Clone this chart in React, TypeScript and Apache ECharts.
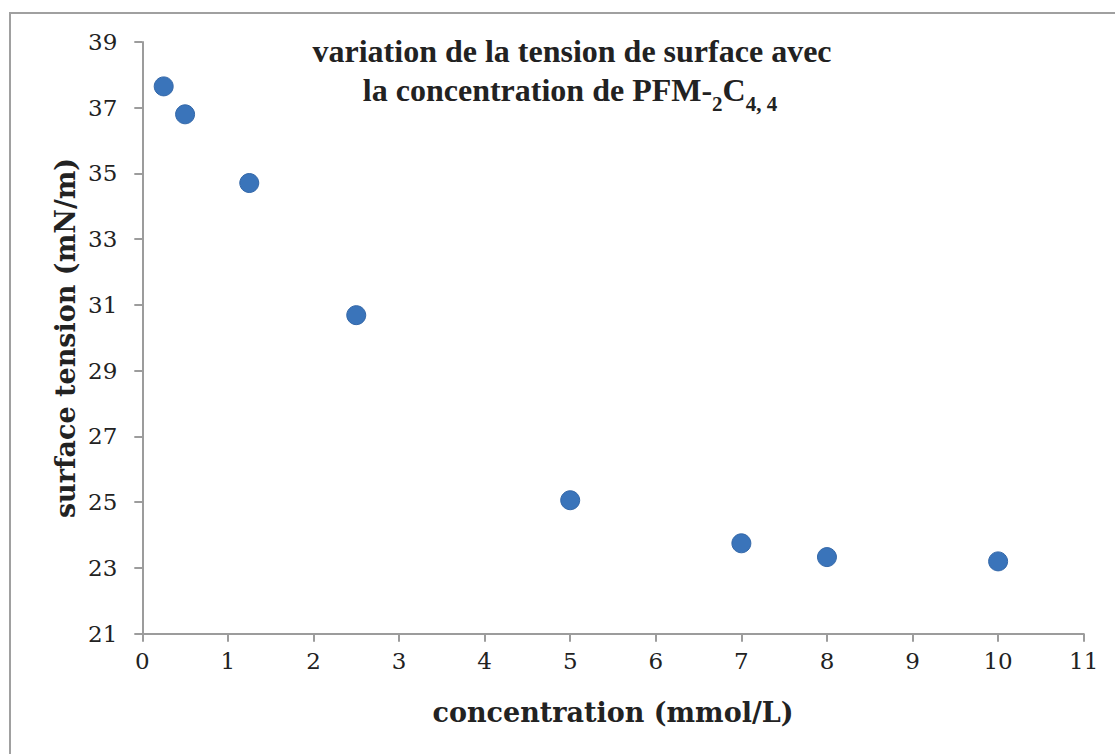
import React, { useEffect, useRef } from "react";
import * as echarts from "echarts";

const concentration = [0.25, 0.5, 1.25, 2.5, 5, 7, 8, 10];
const surfaceTension = [37.65, 36.8, 34.71, 30.69, 25.06, 23.75, 23.33, 23.2];
const titleLine1 = "variation de la tension de surface avec";
const titleLine2 = "{main|la concentration de PFM-}{sub|2}{main|C}{sub|4, 4}";
const xTitle = "concentration (mmol/L)";
const yTitle = "surface tension (mN/m)";

export default function App() {
  const ref = useRef<HTMLDivElement>(null);
  useEffect(() => {
    const chart = echarts.init(ref.current!, null, { renderer: "svg" });
    const axisColor = "#9c9c9c";
    const tickFont = { fontFamily: "DejaVu Serif", fontSize: 23, color: "#222" };
    chart.setOption({
      animation: false,
      backgroundColor: "#fff",
      grid: { left: 142.3, right: 31.3, top: 42, bottom: 120.3 },
      xAxis: {
        type: "value",
        min: 0,
        max: 11,
        interval: 1,
        splitLine: { show: false },
        axisLine: { show: true, lineStyle: { color: axisColor, width: 2 } },
        axisTick: { show: true, inside: false, length: 8, lineStyle: { color: axisColor, width: 2 } },
        axisLabel: { ...tickFont, margin: 16 },
      },
      yAxis: {
        type: "value",
        min: 21,
        max: 39,
        interval: 2,
        splitLine: { show: false },
        axisLine: { show: true, lineStyle: { color: axisColor, width: 2 } },
        axisTick: { show: true, inside: false, length: 8, lineStyle: { color: axisColor, width: 2 } },
        axisLabel: { ...tickFont, margin: 25 },
      },
      series: [
        {
          type: "scatter",
          data: concentration.map((c, i) => [c, surfaceTension[i]]),
          symbol: "circle",
          symbolSize: 19,
          itemStyle: { color: "#3a74ba", borderColor: "#3468a9", borderWidth: 1, opacity: 1 },
        },
      ],
      graphic: [
        {
          type: "rect",
          shape: { x: 10, y: 13, width: 1200, height: 900 },
          style: { fill: "none", stroke: "#a0a0a0", lineWidth: 2 },
          silent: true,
        },
        {
          type: "text",
          x: 572,
          y: 51,
          style: {
            text: titleLine1,
            fontFamily: "Liberation Serif",
            fontWeight: "bold",
            fontSize: 32,
            fill: "#222",
            align: "center",
            verticalAlign: "middle",
          },
        },
        {
          type: "text",
          x: 570,
          y: 74,
          style: {
            text: titleLine2,
            fontFamily: "Liberation Serif",
            fontWeight: "bold",
            fontSize: 32,
            fill: "#222",
            align: "center",
            verticalAlign: "top",
            rich: {
              main: {
                fontFamily: "Liberation Serif",
                fontWeight: "bold",
                fontSize: 32,
                lineHeight: 34,
                verticalAlign: "top",
                fill: "#222",
              },
              sub: {
                fontFamily: "Liberation Serif",
                fontWeight: "bold",
                fontSize: 21,
                lineHeight: 40,
                verticalAlign: "bottom",
                fill: "#222",
              },
            },
          },
        },
        {
          type: "text",
          x: 613,
          y: 712,
          style: {
            text: xTitle,
            fontFamily: "DejaVu Serif",
            fontWeight: "bold",
            fontSize: 27,
            fill: "#222",
            align: "center",
            verticalAlign: "middle",
          },
        },
        {
          type: "text",
          x: 65,
          y: 338,
          rotation: Math.PI / 2,
          style: {
            text: yTitle,
            fontFamily: "DejaVu Serif",
            fontWeight: "bold",
            fontSize: 27,
            fill: "#222",
            align: "center",
            verticalAlign: "middle",
          },
        },
      ],
    });
    return () => chart.dispose();
  }, []);
  return <div ref={ref} style={{ width: 1115, height: 754, position: "absolute", left: 0, top: 0 }} />;
}
